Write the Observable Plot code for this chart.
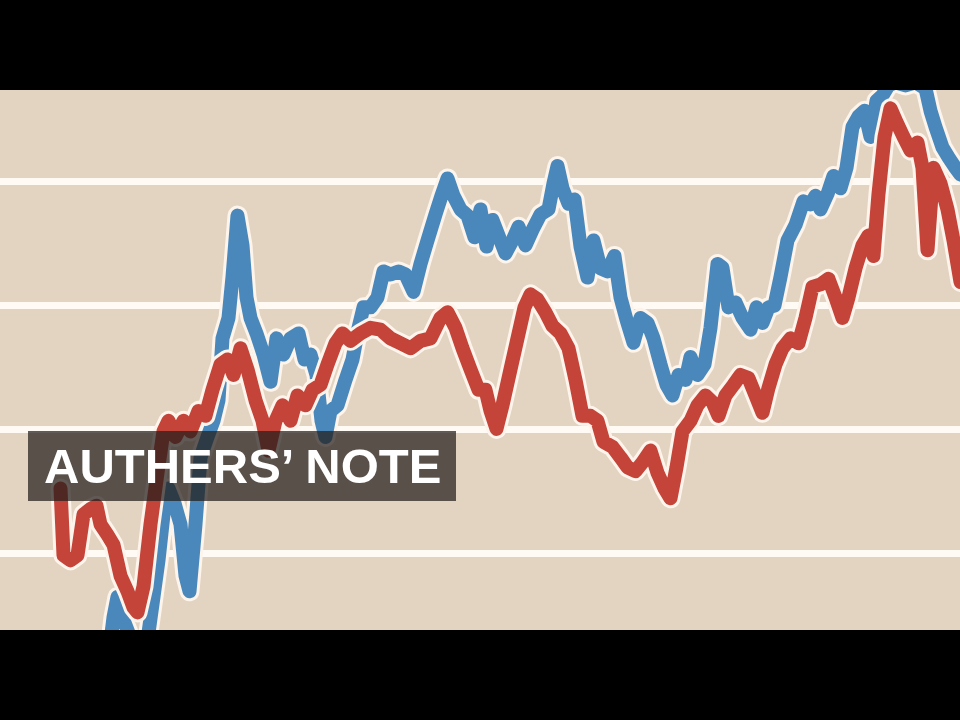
<!DOCTYPE html>
<html>
<head>
<meta charset="utf-8">
<script src="https://cdn.jsdelivr.net/npm/d3@7"></script>
<script src="https://cdn.jsdelivr.net/npm/@observablehq/plot@0.6"></script>
<style>
  html, body { margin: 0; padding: 0; background: #000; width: 960px; height: 720px; overflow: hidden; }
  #wrap { position: relative; width: 960px; height: 720px; }
  #chart { position: absolute; left: 0; top: 90px; width: 960px; height: 540px; }
  #chart svg { display: block; }
  #label {
    position: absolute; left: 28px; top: 431px; width: 428px; height: 70px;
    background: rgba(34, 29, 26, 0.72);
    color: #fff; font-family: "Liberation Sans", Arial, sans-serif; font-weight: bold;
    font-size: 49px; line-height: 70px; box-sizing: border-box; padding-left: 16px;
    white-space: nowrap;
  }
</style>
</head>
<body>
<div id="wrap">
  <div id="chart"></div>
  <div id="label">AUTHERS’ NOTE</div>
</div>
<script>
// Time index (months) and index values for the red series
const redT = [6.0,6.3,7.0,7.7,8.3,9.0,9.6,10.0,10.7,11.3,12.0,12.7,13.3,13.7,14.3,15.0,15.7,16.3,16.8,17.5,18.3,19.0,19.8,20.5,21.2,22.0,22.7,23.3,24.0,24.7,25.5,26.2,26.8,27.5,28.2,29.0,29.7,30.5,31.2,32.0,32.7,33.5,34.2,35.0,36.0,37.0,38.0,39.0,40.0,41.0,42.0,43.0,44.0,44.7,45.5,46.2,47.0,47.8,48.5,49.0,49.6,50.2,51.0,51.7,52.4,53.0,53.7,54.5,55.2,56.0,56.8,57.5,58.2,59.0,59.7,60.3,61.2,62.0,62.7,63.5,64.2,65.0,65.7,66.4,67.0,67.6,68.2,69.0,69.7,70.5,71.2,71.8,72.5,73.3,74.0,74.8,75.5,76.2,76.8,77.5,78.2,79.0,79.8,80.5,81.2,82.0,82.8,83.5,84.2,84.8,85.5,86.2,86.8,87.3,87.8,88.4,89.0,89.6,90.3,91.0,91.7,92.2,92.7,93.3,94.0,94.7,95.3,96.0];
const redV = [30.5,19.7,18.9,19.7,26.3,27.2,27.7,24.7,23.0,21.4,16.4,13.9,11.3,10.5,14.7,24.7,33.0,39.7,41.4,38.8,41.4,39.7,43.0,42.2,46.4,50.5,51.3,48.8,53.1,49.7,44.7,41.4,36.6,41.4,43.9,41.4,45.5,43.9,46.4,47.2,50.5,53.9,55.5,54.3,55.5,56.4,56.1,54.7,53.9,53.1,54.3,54.7,58.0,58.9,56.4,53.1,49.7,46.4,46.4,43.0,40.1,43.9,49.7,54.7,59.7,61.8,61.0,58.9,56.7,55.5,53.1,48.0,42.2,42.2,41.4,38.0,37.2,35.5,33.9,33.3,34.7,36.6,33.0,30.5,28.9,33.9,39.7,41.4,43.9,45.5,44.4,42.2,45.5,47.2,48.8,48.3,45.5,42.7,46.7,50.5,53.1,54.7,53.9,58.0,63.0,63.4,64.3,61.3,58.0,61.3,66.0,69.7,71.3,68.0,78.0,87.2,91.8,89.6,87.2,85.0,86.3,82.2,68.9,82.2,79.7,75.5,70.5,63.8];

// Time index (months) and index values for the blue series
const blueT = [10.8,11.3,11.7,12.2,12.8,13.5,14.2,14.8,15.3,15.8,16.3,16.8,17.4,18.0,18.5,18.9,19.5,20.0,20.7,21.3,21.8,22.2,22.8,23.2,23.7,24.2,24.6,25.0,25.6,26.3,27.0,27.6,28.3,29.0,29.8,30.4,31.0,31.6,32.1,32.5,33.0,33.7,34.5,35.2,35.8,36.3,37.0,37.7,38.3,39.0,39.8,40.5,41.3,42.0,42.7,43.5,44.1,44.7,45.3,46.0,46.7,47.4,48.0,48.6,49.2,49.8,50.5,51.2,51.8,52.5,53.2,54.0,54.8,55.3,55.7,56.2,56.8,57.4,58.0,58.7,59.3,60.0,60.7,61.4,62.0,62.6,63.3,64.0,64.7,65.3,66.0,66.6,67.2,67.8,68.5,69.0,69.7,70.4,71.0,71.7,72.2,72.8,73.5,74.2,75.0,75.6,76.2,76.8,77.4,78.0,78.7,79.5,80.3,81.0,81.5,82.0,82.7,83.3,84.0,84.6,85.2,85.8,86.4,87.0,87.6,88.2,88.8,89.5,90.5,91.5,92.5,93.0,93.5,94.2,94.8,95.5,96.0];
const blueV = [3.1,9.7,13.0,9.7,7.2,4.4,5.6,7.2,13.0,18.9,26.3,30.5,28.1,24.7,16.4,13.9,24.7,35.5,38.8,41.4,44.7,54.7,58.0,64.6,74.5,69.7,61.3,58.0,55.5,52.1,47.7,54.7,52.1,54.7,55.5,51.3,52.1,48.8,41.4,38.8,43.0,43.9,48.0,51.3,56.4,59.7,59.7,61.3,65.5,65.0,65.5,65.0,62.2,66.7,70.5,74.7,77.7,80.5,77.7,75.5,74.5,71.0,75.5,69.5,73.8,71.3,68.4,70.5,72.7,69.7,72.2,74.7,75.5,79.7,82.5,78.9,76.4,77.1,69.5,64.5,70.5,66.0,65.5,68.0,61.3,57.7,54.0,58.0,57.2,54.7,50.5,47.2,45.5,48.8,48.0,51.7,48.8,50.5,56.4,66.7,66.1,59.7,60.5,58.0,56.1,59.7,57.2,59.7,60.0,64.6,70.5,73.0,76.8,76.3,77.7,75.5,78.0,80.9,78.9,82.2,88.8,90.5,91.4,87.2,93.0,93.9,95.5,96.0,95.5,96.0,95.0,91.4,88.8,85.5,83.9,82.2,81.1];

const gridValues = [20, 40, 60, 80];

const red = redT.map((t, i) => ({t, v: redV[i]}));
const blue = blueT.map((t, i) => ({t, v: blueV[i]}));

const BLUE = "#4a88bb";
const RED = "#c4443a";
const HALO = "#fdf5ec";

const chart = Plot.plot({
  width: 960,
  height: 540,
  margin: 0,
  x: {domain: [0, 96], axis: null},
  y: {domain: [7.58, 94.68], axis: null},
  style: {background: "#e3d3c1", overflow: "hidden"},
  marks: [
    Plot.ruleY(gridValues, {stroke: "#fffaf4", strokeWidth: 7}),
    Plot.line(blue, {x: "t", y: "v", stroke: HALO, strokeWidth: 20, strokeLinejoin: "round", strokeLinecap: "round", clip: true}),
    Plot.line(blue, {x: "t", y: "v", stroke: BLUE, strokeWidth: 14, strokeLinejoin: "round", strokeLinecap: "round", clip: true}),
    Plot.line(red, {x: "t", y: "v", stroke: HALO, strokeWidth: 20, strokeLinejoin: "round", strokeLinecap: "round", clip: true}),
    Plot.line(red, {x: "t", y: "v", stroke: RED, strokeWidth: 14, strokeLinejoin: "round", strokeLinecap: "round", clip: true})
  ]
});
document.getElementById("chart").appendChild(chart);
</script>
</body>
</html>
